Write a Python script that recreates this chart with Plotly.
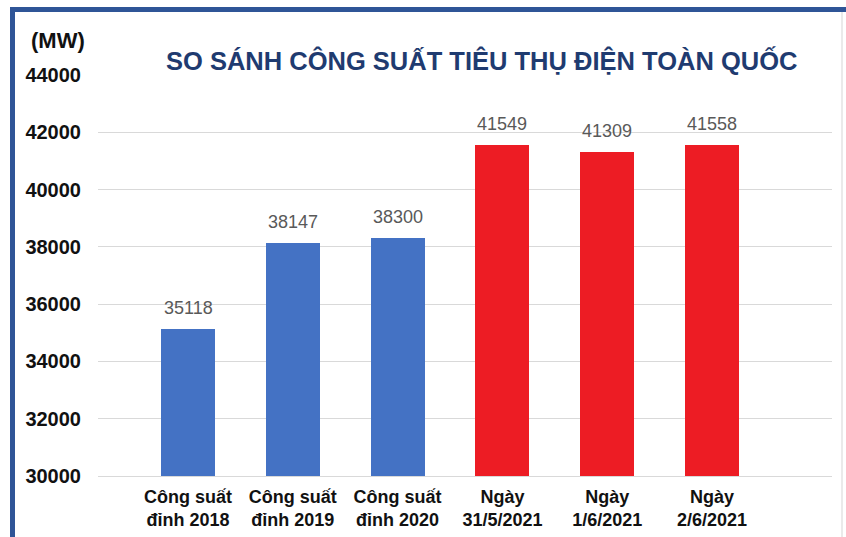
import plotly.graph_objects as go

categories = ["Công suất<br>đỉnh 2018", "Công suất<br>đỉnh 2019", "Công suất<br>đỉnh 2020",
              "Ngày<br>31/5/2021", "Ngày<br>1/6/2021", "Ngày<br>2/6/2021"]
values = [35118, 38147, 38300, 41549, 41309, 41558]
bar_colors = ["#4472C4", "#4472C4", "#4472C4", "#ED1C24", "#ED1C24", "#ED1C24"]
y_ticks = [30000, 32000, 34000, 36000, 38000, 40000, 42000, 44000]

W, H = 846, 537
L, R, T, B = 98, 14, 75, 61
PW, PH = W - L - R, H - T - B

def px(x):
    return (x - L) / PW

def py(y):
    return (H - B - y) / PH

xs = list(range(len(categories)))

fig = go.Figure()
fig.add_trace(go.Bar(
    x=xs, y=values, marker=dict(color=bar_colors, line=dict(width=0)),
    width=0.515, hoverinfo="skip",
))

for xi, v in zip(xs, values):
    fig.add_annotation(x=xi, y=v, text=str(v), showarrow=False, yanchor="bottom",
                       yshift=9, font=dict(family="Liberation Sans", size=18, color="#595959"))

fig.add_annotation(xref="paper", yref="paper", x=px(58), y=py(41), text="<b>(MW)</b>",
                   showarrow=False, xanchor="center", yanchor="middle",
                   font=dict(family="Liberation Sans", size=22, color="#111111"))

fig.add_annotation(xref="paper", yref="paper", x=px(481), y=py(61),
                   text="<b>SO SÁNH CÔNG SUẤT TIÊU THỤ ĐIỆN TOÀN QUỐC</b>",
                   showarrow=False, xanchor="center", yanchor="middle",
                   font=dict(family="Liberation Sans", size=25.5, color="#1F3B70"))

shapes = [
    dict(type="line", xref="paper", yref="paper", x0=px(10), x1=px(846), y0=py(9.5), y1=py(9.5),
         line=dict(color="#2F5597", width=5)),
    dict(type="line", xref="paper", yref="paper", x0=px(12.5), x1=px(12.5), y0=py(9.5), y1=py(537),
         line=dict(color="#2F5597", width=5)),
    dict(type="line", xref="paper", yref="paper", x0=px(842), x1=px(842), y0=py(12), y1=py(537),
         line=dict(color="#D5D5D5", width=1)),
]

fig.update_layout(
    width=W, height=H, margin=dict(l=L, r=R, t=T, b=B, autoexpand=False),
    paper_bgcolor="white", plot_bgcolor="white", showlegend=False,
    shapes=shapes, bargap=0,
    xaxis=dict(range=[-0.859, 6.145], tickmode="array", tickvals=xs, ticktext=categories,
               showgrid=False, showline=True, linecolor="#D9D9D9", linewidth=1,
               ticks="", ticklabelstandoff=4,
               tickfont=dict(family="Liberation Sans", size=18, color="#111111", weight="bold"),
               fixedrange=True),
    yaxis=dict(range=[30000, 44000], tickmode="array", tickvals=y_ticks,
               ticktext=[str(t) for t in y_ticks], showgrid=True, gridcolor="#D9D9D9",
               gridwidth=1, zeroline=False, showline=False, ticks="", ticklabelstandoff=16,
               tickfont=dict(family="Liberation Sans", size=20, color="#111111", weight="bold"),
               fixedrange=True),
)

fig.write_html("out.html", config={"displayModeBar": False})
